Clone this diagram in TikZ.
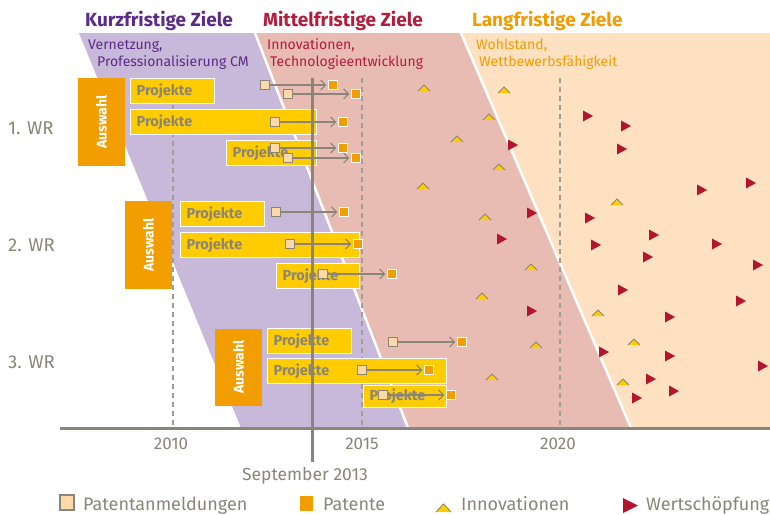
\documentclass[tikz,border=0pt]{standalone}
\usepackage{fontspec}
\setmainfont{Fira Sans}
\usetikzlibrary{arrows.meta}

\definecolor{kurz}{RGB}{92,43,135}
\definecolor{mittel}{RGB}{180,28,60}
\definecolor{lang}{RGB}{242,156,0}
\definecolor{kurzbg}{RGB}{200,185,218}
\definecolor{mittelbg}{RGB}{232,187,179}
\definecolor{langbg}{RGB}{253,225,192}
\definecolor{grau}{RGB}{138,133,120}
\definecolor{gelb}{RGB}{255,204,0}
\definecolor{patentorange}{RGB}{242,158,0}
\definecolor{anmeldungfarbe}{RGB}{253,217,168}
\definecolor{wertrot}{RGB}{179,21,47}

\begin{document}
\begin{tikzpicture}[x=1pt, y=-1pt,
      every node/.style={inner sep=0pt},
      titel/.style={font=\bfseries\fontsize{19}{19}\selectfont, anchor=base west},
      untertitel/.style={font=\fontsize{14}{14}\selectfont, anchor=base west},
      wr/.style={text=grau, font=\fontsize{18.5}{18.5}\selectfont, anchor=base west},
      jahr/.style={text=grau, font=\fontsize{17}{17}\selectfont, anchor=base},
      auswahl/.style={fill=patentorange, text=white, font=\bfseries\fontsize{14}{14}\selectfont,
        rotate=90, minimum width=88pt, minimum height=47pt},
      projekt/.style={fill=gelb, draw=white, line width=1.2pt, text=grau,
        font=\bfseries\fontsize{14.5}{14.5}\selectfont, anchor=north west,
        inner xsep=6pt, minimum height=25pt, align=left},
      anmeldung/.style={fill=anmeldungfarbe, draw=grau, line width=1.2pt, minimum size=9pt},
      patent/.style={fill=patentorange, draw=white, line width=1.2pt, minimum size=9pt},
      pfeil/.style={draw=grau, line width=1.1pt, -{Straight Barb[length=5pt,width=10pt]}, shorten >=1.5pt},
      raster/.style={draw=grau!80, line width=1.5pt, dash pattern=on 5pt off 4pt},
      legende/.style={text=grau, font=\fontsize{18}{18}\selectfont, anchor=base west}]
    \useasboundingbox (0,0) rectangle (770,514);

    % Zeitbänder
    \fill[kurzbg] (79,33) -- (255,33) -- (408,428) -- (241,428) -- cycle;
    \fill[mittelbg] (255,33) -- (461,33) -- (631,428) -- (408,428) -- cycle;
    \fill[langbg] (461,33) -- (770,33) -- (770,428) -- (631,428) -- cycle;
    \draw[white, line width=2.5pt] (255,33) -- (408,428);
    \draw[white, line width=2.5pt] (461,33) -- (631,428);

    % Jahre
    \coordinate (j2010) at (173,78);
    \coordinate (j2015) at (362,78);
    \coordinate (j2020) at (560,78);
    \draw[raster] (j2010) -- (j2010 |- 0,428);
    \draw[raster] (j2015) -- (j2015 |- 0,428);
    \draw[raster] (j2020) -- (j2020 |- 0,428);
    \coordinate (achseL) at (60,428);
    \coordinate (achseR) at (770,428);
    \draw[grau, line width=3pt] (achseL) -- (achseR);
    \node[jahr] (t2010) at (171,449) {2010};
    \node[jahr] (t2015) at (362,449) {2015};
    \node[jahr] (t2020) at (558,449) {2020};

    % Titel
    \node[titel, text=kurz] (kurz) at (85,26) {Kurzfristige Ziele};
    \node[titel, text=mittel] (mittel) at (263,26) {Mittelfristige Ziele};
    \node[titel, text=lang] (lang) at (472,26) {Langfristige Ziele};
    \node[untertitel, text=kurz] (k1) at (88,49) {Vernetzung,};
    \node[untertitel, text=kurz] (k2) at (97,66) {Professionalisierung CM};
    \node[untertitel, text=mittel] (m1) at (267,49) {Innovationen,};
    \node[untertitel, text=mittel] (m2) at (270,66) {Technologieentwicklung};
    \node[untertitel, text=lang] (l1) at (476,49) {Wohlstand,};
    \node[untertitel, text=lang] (l2) at (479,66) {Wettbewerbsfähigkeit};

    % Wettbewerbsrunden
    \node[wr] (wr1) at (8,134) {1. WR};
    \node[wr] (wr2) at (8,251) {2. WR};
    \node[wr] (wr3) at (8,368) {3. WR};
    \node[auswahl] (aw1) at (101.5,122) {Auswahl};
    \node[auswahl] (aw2) at (148.5,245) {Auswahl};
    \node[auswahl, minimum width=77pt] (aw3) at (238.5,367) {Auswahl};

    % Projekte
    \node[projekt, text width=72pt] (pj1) at (130,78) {Projekte};
    \node[projekt, text width=174pt] (pj2) at (130,109) {Projekte};
    \node[projekt, text width=78pt] (pj3) at (226,140) {Projekte};
    \node[projekt, text width=72pt] (pj4) at (180,201) {Projekte};
    \node[projekt, text width=167pt] (pj5) at (180,232) {Projekte};
    \node[projekt, text width=71pt] (pj6) at (276,263) {Projekte};
    \node[projekt, text width=72pt] (pj7) at (267,328) {Projekte};
    \node[projekt, text width=167pt] (pj8) at (267,358) {Projekte};
    \node[projekt, text width=71pt, minimum height=22pt] (pj9) at (363,385) {Projekte};

    % September 2013
    \coordinate (sepO) at (312,78);
    \coordinate (sepU) at (312,462);
    \draw[grau, line width=3pt] (sepO) -- (sepU);
    \node[jahr, font=\fontsize{17.5}{17.5}\selectfont] (sep) at (305,480) {September 2013};

    % Patentanmeldungen und Patente
    \foreach \n/\xa/\xp/\y in {1/265/333/85, 2/288/356/94, 3/275/343/122, 4/275/343/148,
        5/288/356/158, 6/276/344/212, 7/290/358/244, 8/323/392/274,
        9/393/462/342, 10/362/429/370, 11/383/451/395} {
      \node[anmeldung] (a\n) at (\xa,\y) {};
      \node[patent] (p\n) at (\xp,\y) {};
      \draw[pfeil] (a\n) -- (p\n);
    }

    % Innovationen
    \foreach \x/\y in {424/88, 504/90, 489/117, 457/139, 499/167, 423/186, 485/217,
        617/202, 531/267, 482/296, 598/313, 634/342, 536/345, 492/377, 623/382} {
      \fill[gelb] (\x-6,\y+3) -- (\x,\y-3) -- (\x+6,\y+3) -- cycle;
      \draw[grau, line width=0.9pt] (\x-6,\y+3) -- (\x,\y-3) -- (\x+6,\y+3);
    }

    % Wertschöpfung
    \foreach \x/\y in {588/116, 626/126, 622/149, 513/145, 702/190, 751/183, 590/218,
        654/235, 596/245, 717/244, 648/257, 532/213, 502/239, 758/265, 623/290,
        741/301, 532/311, 670/317, 604/352, 670/356, 763/366, 651/379, 637/398, 674/391} {
      \fill[wertrot] (\x-5,\y-5.5) -- (\x+5,\y) -- (\x-5,\y+5.5) -- cycle;
    }

    % Legende
    \node[anmeldung, minimum width=14pt, minimum height=15pt] (leg1) at (67,502.5) {};
    \node[legende] (leg1t) at (83,510) {Patentanmeldungen};
    \node[patent, fill=patentorange, draw=none, minimum width=13pt, minimum height=15pt] (leg2) at (306.5,503) {};
    \node[legende] (leg2t) at (323,510) {Patente};
    \fill[gelb] (436,512) -- (443.5,504) -- (451,512) -- cycle;
    \draw[grau, line width=0.9pt] (436,512) -- (443.5,504) -- (451,512);
    \node[legende] (leg3t) at (461,510) {Innovationen};
    \fill[wertrot] (623,498) -- (638,505.5) -- (623,513) -- cycle;
    \node[legende] (leg4t) at (646,510) {Wertschöpfung};
  \end{tikzpicture}
\end{document}
